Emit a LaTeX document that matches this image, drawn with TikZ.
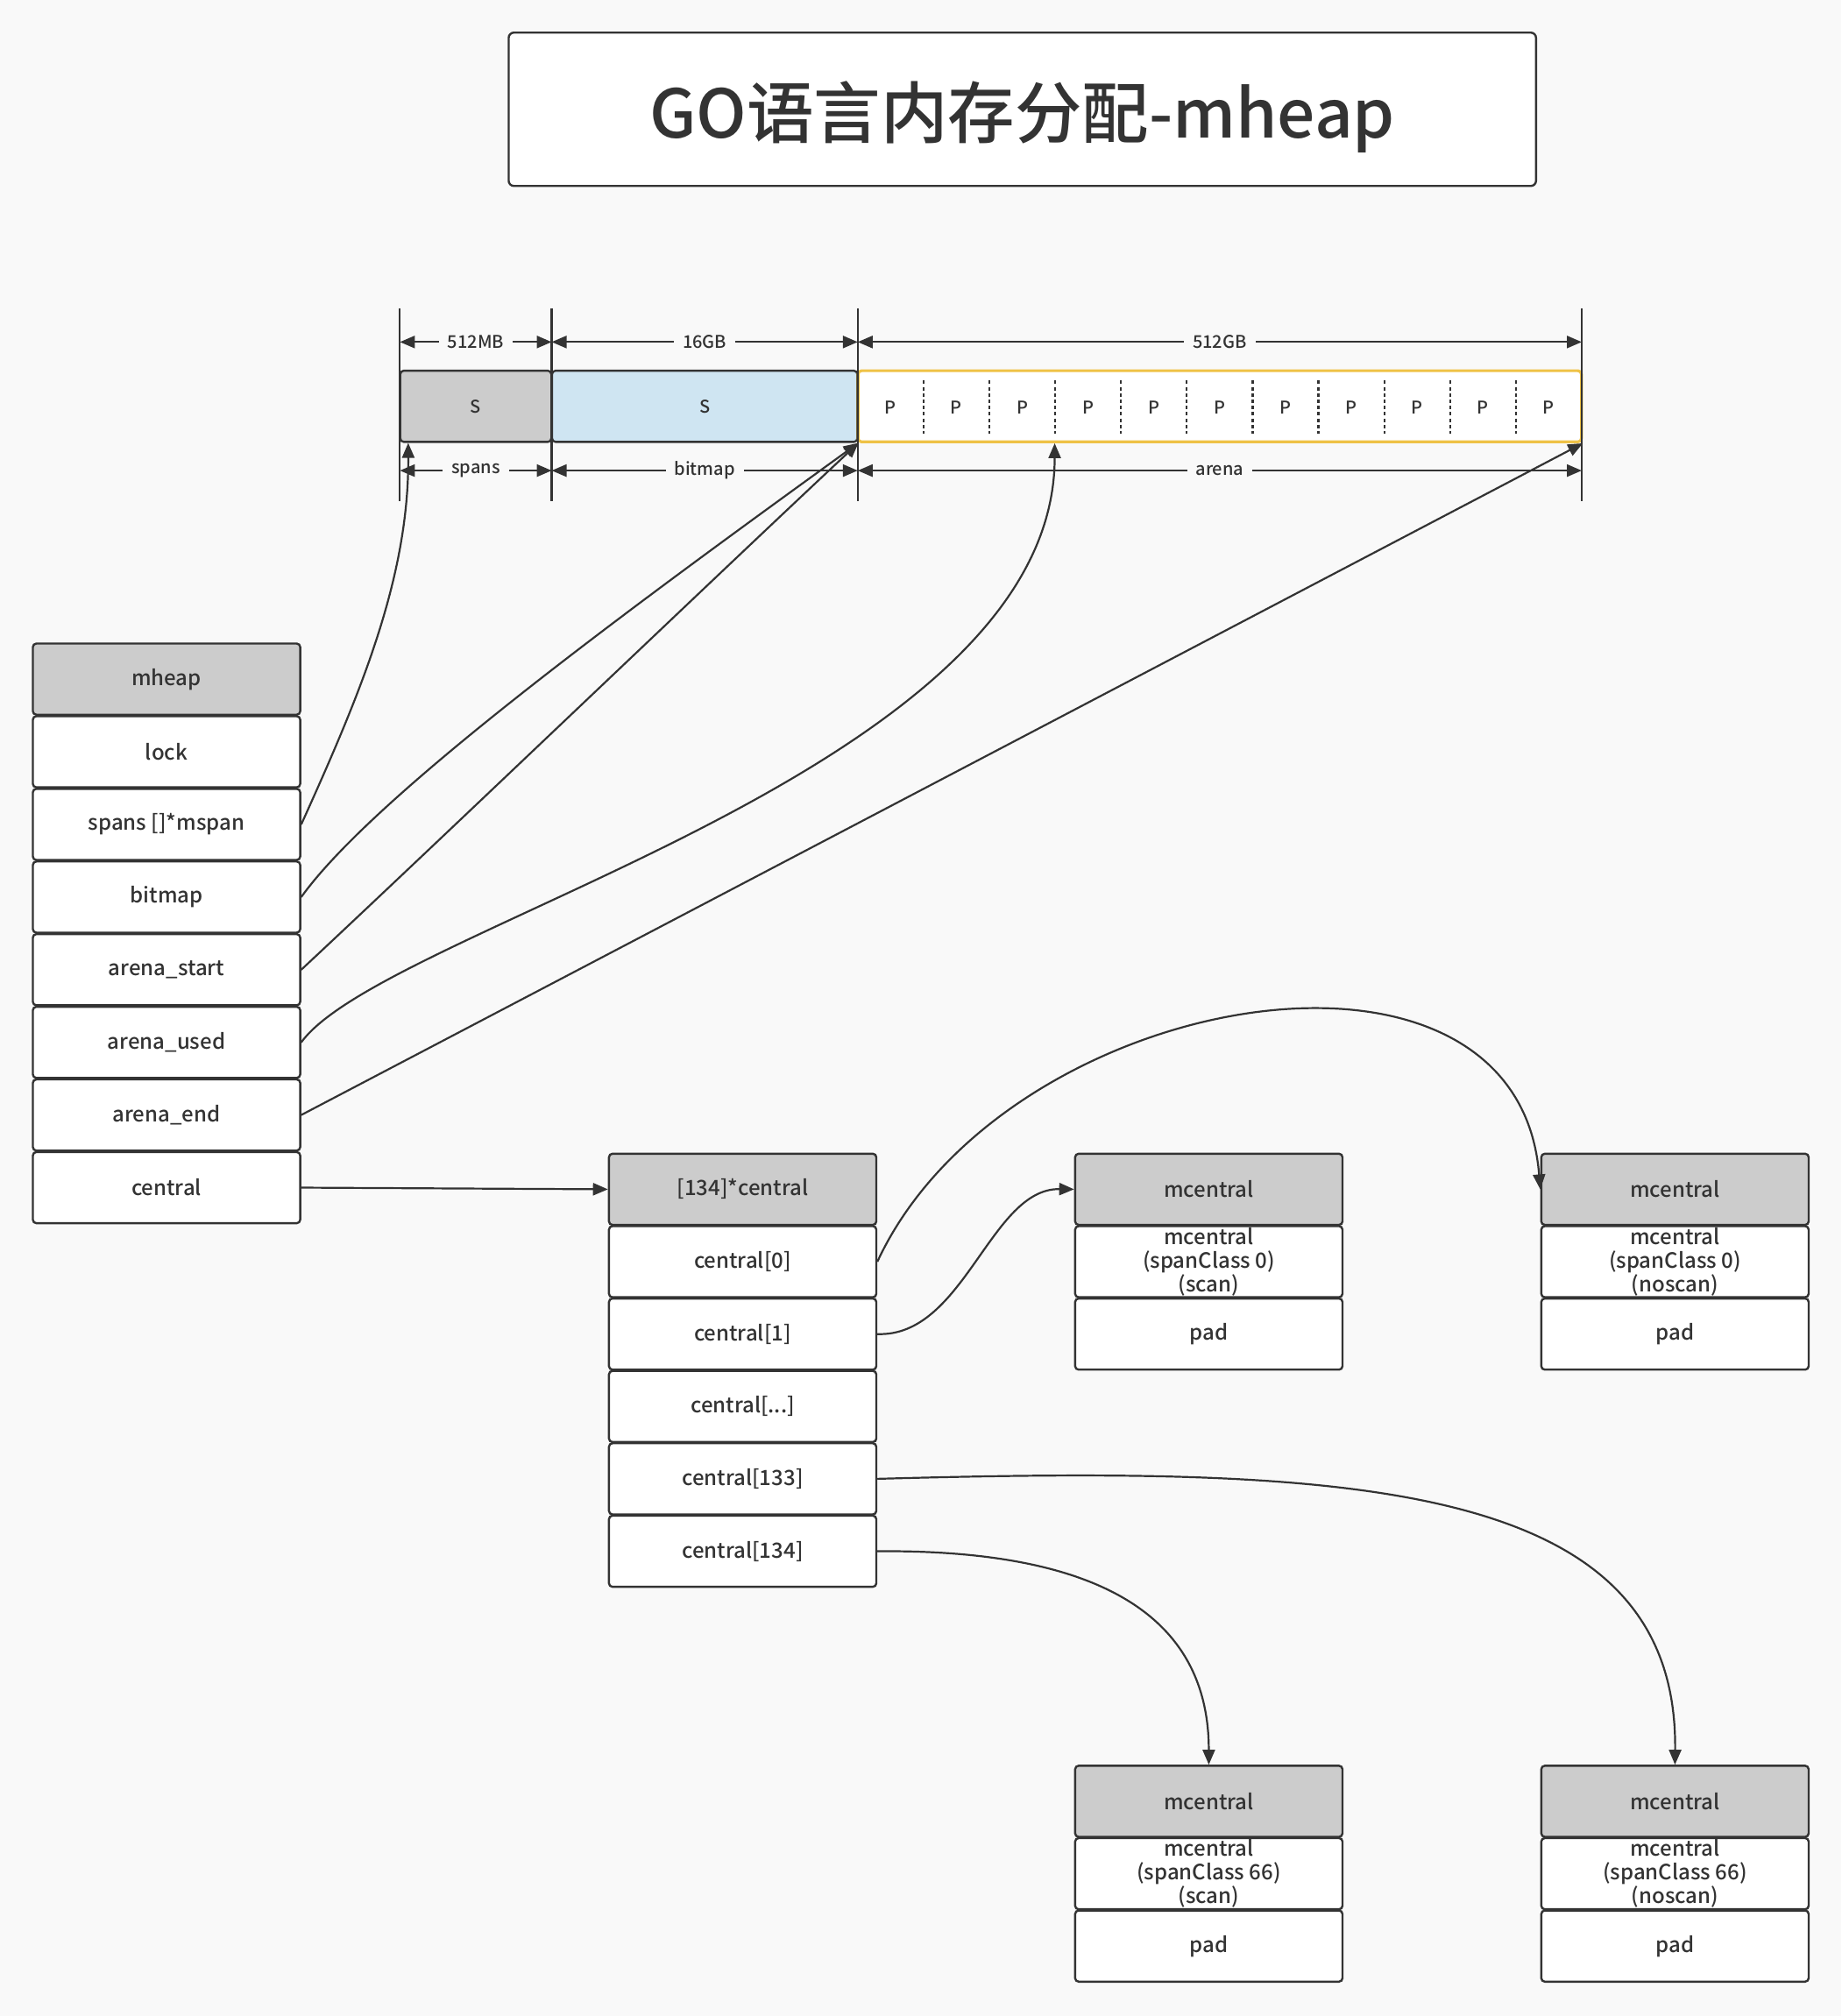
\documentclass[tikz,border=0pt]{standalone}
\usepackage{fontspec}
\setmainfont{Noto Sans CJK SC}[UprightFont={* Medium},BoldFont={* Bold}]
\usetikzlibrary{arrows.meta,calc}
\definecolor{bg}{HTML}{F9F9F9}
\definecolor{ln}{HTML}{333333}
\definecolor{gr}{HTML}{CCCCCC}
\definecolor{bl}{HTML}{CFE5F2}
\definecolor{yl}{HTML}{EFC246}
\begin{document}
\begin{tikzpicture}[x=0.7335pt,y=-0.7335pt,
  cell/.style={draw=ln, line width=1.2pt, rounded corners=2pt, fill=white,
    minimum width=152.5pt, minimum height=40.6pt, inner sep=0pt, text=ln,
    font=\fontsize{12}{13.6}\selectfont, align=center},
  head/.style={cell, fill=gr},
  seg/.style={draw=ln, line width=1.2pt, rounded corners=2pt, minimum height=40.6pt,
    inner sep=0pt, text=ln, font=\fontsize{10}{12}\selectfont},
  small/.style={text=ln, font=\fontsize{10}{12}\selectfont, inner sep=0pt},
  dlabel/.style={small, fill=bg, inner xsep=5pt, inner ysep=2pt},
  tip/.style={-{Triangle[length=8.5pt,width=7pt]}},
  dim/.style={draw=ln, line width=1.1pt, {Triangle[length=8.5pt,width=7pt]}-{Triangle[length=8.5pt,width=7pt]}},
  conn/.style={draw=ln, line width=1.1pt, tip},
  tick/.style={draw=ln, line width=1.1pt},
  divider/.style={draw=ln, line width=1.1pt, dash pattern=on 2pt off 1.6pt}
]
\fill[bg] (0,0) rectangle (1432,1568);
\useasboundingbox (0,0) rectangle (1432,1568);

% title
\node[draw=ln, line width=1.2pt, rounded corners=3pt, fill=white,
  minimum width=586pt, minimum height=87.5pt, inner sep=0pt] (title) at (795,85) {};
\node[text=ln, inner sep=0pt, font=\fontsize{38.2}{40}\selectfont] (ttext) at (795,91) {GO语言内存分配-mheap};

% memory bar
\node[seg, fill=gr, minimum width=86.2pt] (s1) at (370,316) {S};
\node[seg, fill=bl, minimum width=174.2pt] (s2) at (548,316) {S};
\node[seg, draw=yl, line width=1.6pt, fill=white, minimum width=412.6pt] (ar) at (948.5,316) {};
\foreach \i in {0,...,10} {
  \node[small] (p\i) at ({667+51.18*(\i+0.5)},317) {P};
}
\foreach \i in {1,...,10} {
  \draw[divider] ({667+51.18*\i},296) -- ({667+51.18*\i},337);
}

% dimension ticks
\foreach \x in {311,429,667,1230} {
  \draw[tick] (\x,240) -- (\x,390);
}
\draw[dim] (311,266) -- node[dlabel] (l1) {512MB} (429,266);
\draw[dim] (429,266) -- node[dlabel] (l2) {16GB} (667,266);
\draw[dim] (667,266) -- node[dlabel] (l3) {512GB} (1230,266);
\draw[dim] (311,366) -- node[dlabel] (l4) {spans} (429,366);
\draw[dim] (429,366) -- node[dlabel] (l5) {bitmap} (667,366);
\draw[dim] (667,366) -- node[dlabel] (l6) {arena} (1230,366);

% mheap column
\node[head] (mheap) at (129.5,528.2) {mheap};
\node[cell] (lock) at (129.5,584.7) {lock};
\node[cell] (spans) at (129.5,641.2) {spans []*mspan};
\node[cell] (bitmap) at (129.5,697.7) {bitmap};
\node[cell] (astart) at (129.5,754.2) {arena\_start};
\node[cell] (aused) at (129.5,810.7) {arena\_used};
\node[cell] (aend) at (129.5,867.2) {arena\_end};
\node[cell] (central) at (129.5,923.7) {central};

% central array column
\node[head] (carr) at (577.5,925) {[134]*central};
\node[cell] (c0) at (577.5,981.3) {central[0]};
\node[cell] (c1) at (577.5,1037.6) {central[1]};
\node[cell] (cd) at (577.5,1093.9) {central[...]};
\node[cell] (c133) at (577.5,1150.2) {central[133]};
\node[cell] (c134) at (577.5,1206.5) {central[134]};

% mcentral boxes
\node[head] (m1h) at (940,925) {mcentral};
\node[cell] (m1b) at (940,981.3) {mcentral\\(spanClass 0)\\(scan)};
\node[cell] (m1p) at (940,1037.6) {pad};

\node[head] (m2h) at (1302.5,925) {mcentral};
\node[cell] (m2b) at (1302.5,981.3) {mcentral\\(spanClass 0)\\(noscan)};
\node[cell] (m2p) at (1302.5,1037.6) {pad};

\node[head] (m3h) at (940,1401) {mcentral};
\node[cell] (m3b) at (940,1457.3) {mcentral\\(spanClass 66)\\(scan)};
\node[cell] (m3p) at (940,1513.6) {pad};

\node[head] (m4h) at (1302.5,1401) {mcentral};
\node[cell] (m4b) at (1302.5,1457.3) {mcentral\\(spanClass 66)\\(noscan)};
\node[cell] (m4p) at (1302.5,1513.6) {pad};

% targets on the bar
\coordinate (t1) at ($(s1.south west)+(7,0)$);
\coordinate (t4) at ($(ar.south west)!0.2727!(ar.south east)$);

% connectors
\draw[conn] (spans.east) .. controls (280,540) and (318,450) .. (t1);
\draw[conn] (bitmap.east) .. controls (290,620) and (480,480) .. (s2.south east);
\draw[conn] (astart.east) .. controls (330,665) and (560,445) .. (s2.south east);
\draw[conn] (aused.east) .. controls (300,720) and (820,600) .. (t4);
\draw[conn] (aend.east) -- (ar.south east);
\draw[conn] (central.east) -- (carr.west);
\draw[conn] (c0.east) .. controls (780,770) and (1180,700) .. (m2h.west);
\draw[conn] (c1.east) .. controls (750,1040) and (770,924) .. (m1h.west);
\draw[conn] (c133.east) .. controls (1050,1140) and (1305,1150) .. (m4h.north);
\draw[conn] (c134.east) .. controls (860,1205) and (940,1260) .. (m3h.north);
\end{tikzpicture}
\end{document}
